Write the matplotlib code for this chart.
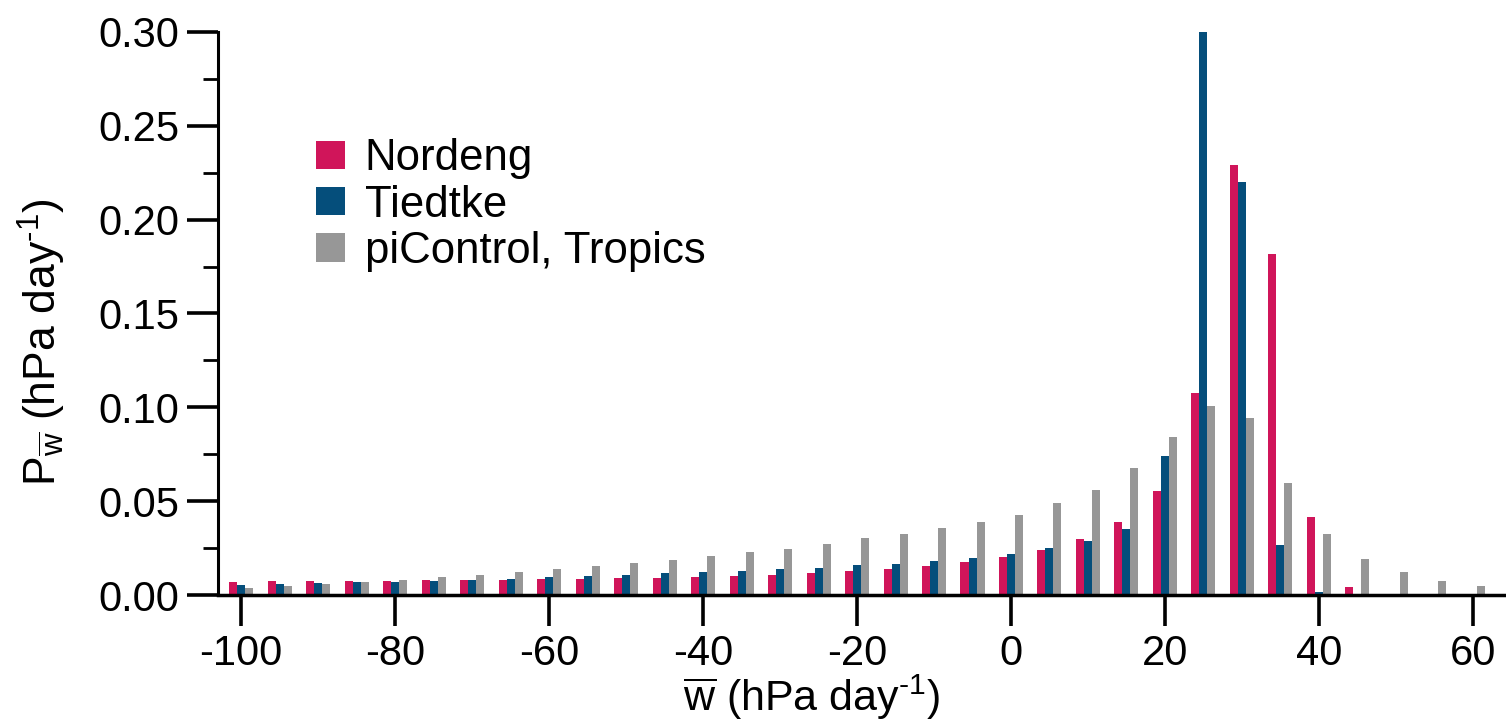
import numpy as np
from matplotlib import pyplot as plt
from matplotlib.ticker import MultipleLocator, FormatStrFormatter

plt.rcParams['font.family'] = ['Liberation Sans', 'DejaVu Sans']
plt.rcParams['mathtext.fontset'] = 'custom'
plt.rcParams['mathtext.rm'] = 'Liberation Sans'
plt.rcParams['mathtext.it'] = 'Liberation Sans:italic'
plt.rcParams['axes.unicode_minus'] = False

# bin centres of omega (hPa/day)
w_bins = np.arange(-100, 61, 5)

nordeng = [0.0069, 0.0075, 0.0075, 0.0075, 0.0075, 0.0080, 0.0080, 0.0080,
           0.0085, 0.0085, 0.0091, 0.0091, 0.0096, 0.0101, 0.0107, 0.0117,
           0.0128, 0.0139, 0.0155, 0.0176, 0.0202, 0.0240, 0.0298, 0.0389,
           0.0554, 0.1076, 0.2290, 0.1815, 0.0416, 0.0043, 0.0, 0.0, 0.0]
tiedtke = [0.0053, 0.0059, 0.0064, 0.0069, 0.0069, 0.0075, 0.0080, 0.0085,
           0.0096, 0.0101, 0.0107, 0.0117, 0.0123, 0.0128, 0.0139, 0.0144,
           0.0160, 0.0165, 0.0181, 0.0197, 0.0218, 0.0251, 0.0288, 0.0352,
           0.0741, 0.3000, 0.2200, 0.0266, 0.0015, 0.0, 0.0, 0.0, 0.0]
picontrol = [0.0037, 0.0048, 0.0059, 0.0069, 0.0080, 0.0096, 0.0107, 0.0123,
             0.0139, 0.0155, 0.0171, 0.0187, 0.0208, 0.0229, 0.0245, 0.0272,
             0.0304, 0.0325, 0.0357, 0.0389, 0.0426, 0.0490, 0.0560, 0.0677,
             0.0842, 0.1007, 0.0943, 0.0597, 0.0325, 0.0192, 0.0123, 0.0075,
             0.0048]

labels = ['Nordeng', 'Tiedtke', 'piControl, Tropics']
colors = ['#d0155a', '#054e7b', '#979797']

fig = plt.figure(figsize=(15.06, 7.24), dpi=100)
ax = fig.add_axes([0.1448, 0.178, 0.8552, 0.778])

bw = 1.04
for k, (vals, lab, col) in enumerate(zip([nordeng, tiedtke, picontrol], labels, colors)):
    ax.bar(w_bins + (k - 1) * bw, vals, width=bw, color=col, label=lab, linewidth=0)

ax.set_xlim(-103, 64.3)
ax.set_ylim(0, 0.30)
ax.set_xticks(np.arange(-100, 61, 20))
ax.yaxis.set_major_locator(MultipleLocator(0.05))
ax.yaxis.set_minor_locator(MultipleLocator(0.025))
ax.yaxis.set_major_formatter(FormatStrFormatter('%.2f'))

for s in ['top', 'right']:
    ax.spines[s].set_visible(False)
ax.spines['left'].set_linewidth(2.2)
ax.spines['bottom'].set_linewidth(2.5)

ax.tick_params(axis='both', which='major', direction='out', length=22, width=2.6,
               labelsize=30, pad=6)
ax.tick_params(axis='y', which='minor', direction='out', length=11, width=2.0)

ax.set_xlabel(r'$\overline{\mathrm{w}}$ (hPa day$^{\text{-1}}$)', fontsize=31)
ax.xaxis.set_label_coords(0.461, -0.137)
ax.set_ylabel(r'P$_{\overline{\mathrm{w}}}$ (hPa day$^{\text{-1}}$)', fontsize=32)
ax.yaxis.set_label_coords(-0.1165, 0.449)

ax.legend(loc='upper left', bbox_to_anchor=(0.076, 0.811), frameon=False,
          fontsize=31.5, handlelength=0.66, handleheight=0.62, handletextpad=0.45,
          labelspacing=0.12, borderpad=0, borderaxespad=0)

plt.savefig('out.png', dpi=100)
